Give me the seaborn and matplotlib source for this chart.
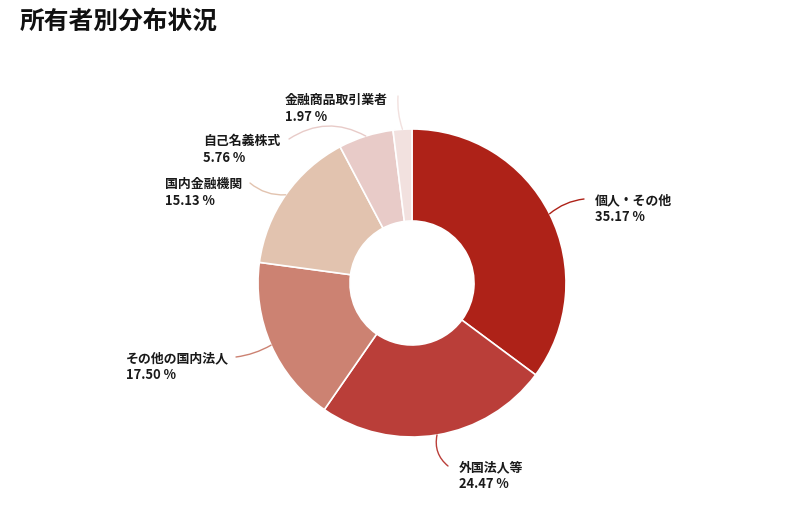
import numpy as np
import matplotlib
matplotlib.use("Agg")
import matplotlib.pyplot as plt
import seaborn as sns

categories = ["個人・その他", "外国法人等", "その他の国内法人", "国内金融機関", "自己名義株式", "金融商品取引業者"]
values = [35.17, 24.47, 17.50, 15.13, 5.76, 1.97]
colors = ["#AE2218", "#BA3E39", "#CC8272", "#E2C3AF", "#E8CBC8", "#F2E1DF"]
title = "所有者別分布状況"

# label layout (pixel coords, top-left origin): text left x, first line center y
label_pos = [(595, 200), (459, 467), (126, 358), (165, 184), (203, 141), (285, 100)]
leader_end = [(584, 199), (448, 466), (236, 357), (250, 183), (289, 139), (398, 96)]
leader_rad = [0.15, -0.3, 0.1, 0.2, -0.3, 0.1]

sns.set_theme(style="white")
plt.rcParams['font.family'] = ['Noto Sans CJK JP', 'DejaVu Sans']

W, H = 800, 512
fig = plt.figure(figsize=(8, 5.12), dpi=100)
ax = fig.add_axes([0, 0, 1, 1])
ax.set_xlim(0, W)
ax.set_ylim(0, H)
ax.set_aspect('equal')
ax.axis('off')

cx, cy, R, r_in = 412, 283, 154, 62
wedges, _ = ax.pie(values, colors=colors, startangle=90, counterclock=False,
                   center=(cx, H - cy), radius=R,
                   wedgeprops=dict(width=R - r_in, edgecolor='white', linewidth=1.2))
ax.set_xlim(0, W)
ax.set_ylim(0, H)

total = sum(values)
cum = 0
for i, (cat, v) in enumerate(zip(categories, values)):
    mid = (cum + v / 2) / total * 360
    cum += v
    ang = np.deg2rad(90 - mid)
    sx = cx + R * np.cos(ang)
    sy = cy - R * np.sin(ang)
    ex, ey = leader_end[i]
    ax.annotate("", xy=(sx, H - sy), xytext=(ex, H - ey),
                arrowprops=dict(arrowstyle='-', color=colors[i], lw=1.0,
                                connectionstyle=f"arc3,rad={leader_rad[i]}",
                                shrinkA=0, shrinkB=0))
    tx, ty = label_pos[i]
    ax.text(tx, H - ty, cat, ha='left', va='center', fontsize=9.3,
            fontweight='bold', color='#1a1a1a')
    ax.text(tx, H - ty - 17, f"{v:.2f} %", ha='left', va='center', fontsize=9.3,
            fontweight='bold', color='#1a1a1a')

ax.text(20, H - 22, title, ha='left', va='center', fontsize=17.8,
        fontweight='bold', color='#111111')

fig.savefig("out.png", dpi=100)
